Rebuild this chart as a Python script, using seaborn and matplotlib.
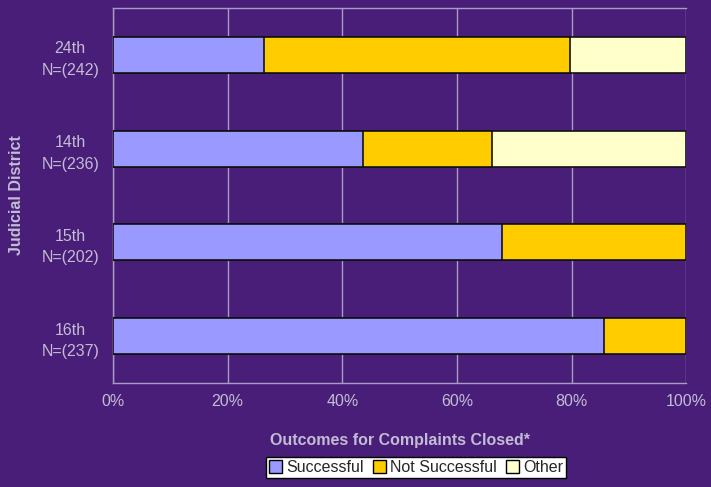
import matplotlib
matplotlib.use("Agg")
import matplotlib.pyplot as plt
import seaborn as sns
import pandas as pd
from matplotlib.patches import Patch

districts = ["24th\nN=(242)", "14th\nN=(236)", "15th\nN=(202)", "16th\nN=(237)"]
successful = [26.4, 43.6, 67.9, 85.7]
not_successful = [53.4, 22.5, 32.1, 14.3]
other = [20.2, 33.9, 0.0, 0.0]

series_names = ["Successful", "Not Successful", "Other"]
series_colors = ["#9999FF", "#FFCC00", "#FFFFCC"]

bg = "#481E78"
text_col = "#C4BCD4"
grid_col = "#A99BC6"

df = pd.DataFrame({
    "district": districts,
    "Successful": successful,
    "Not Successful": not_successful,
    "Other": other,
})
# cumulative ends for stacking (draw the longest layer first)
df["cum_succ"] = df["Successful"]
df["cum_not"] = df["cum_succ"] + df["Not Successful"]
df["cum_other"] = df["cum_not"] + df["Other"]

sns.set_theme(style="white")
plt.rcParams["font.family"] = ["Liberation Sans", "DejaVu Sans"]

fig = plt.figure(figsize=(7.11, 4.87), dpi=100, facecolor=bg)
ax = fig.add_axes([0.159, 0.2136, 0.806, 0.770])
ax.set_facecolor(bg)

layers = [("cum_other", series_colors[2]), ("cum_not", series_colors[1]), ("cum_succ", series_colors[0])]
for col, color in layers:
    sns.barplot(data=df, x=col, y="district", order=districts, orient="h",
                color=color, width=0.385, edgecolor="#111111", linewidth=1.2,
                saturation=1, ax=ax, zorder=3)

ax.set_xlim(0, 100)
ax.set_ylim(3.5, -0.5)
ax.set_xticks([0, 20, 40, 60, 80, 100])
ax.set_xticklabels(["0%", "20%", "40%", "60%", "80%", "100%"])
ax.xaxis.grid(True, color=grid_col, linewidth=1.0, zorder=0)
ax.set_axisbelow(True)

# y ticks sit at category boundaries, labels centred on bars
ax.set_yticks([0, 1, 2, 3])
ax.set_yticklabels(districts, multialignment="center", linespacing=1.55)
ax.set_yticks([-0.5, 0.5, 1.5, 2.5, 3.5], minor=True)
ax.tick_params(axis="y", which="major", length=0, pad=10, labelcolor=text_col, labelsize=11.5)
ax.tick_params(axis="y", which="minor", length=6, color=grid_col, width=1, direction="out")
ax.tick_params(axis="x", which="major", length=6, color=grid_col, width=1, direction="out",
               labelcolor=text_col, labelsize=11.5, pad=2)

ax.spines["right"].set_visible(False)
for s in ["left", "bottom", "top"]:
    ax.spines[s].set_color(grid_col)
    ax.spines[s].set_linewidth(1.0)

ax.set_xlabel("Outcomes for Complaints Closed*", color=text_col, fontsize=11.5,
              fontweight="bold", labelpad=17)
ax.set_ylabel("Judicial District", color=text_col, fontsize=11.5, fontweight="bold")
ax.yaxis.set_label_coords(-0.155, 0.5)

handles = [Patch(facecolor=c, edgecolor="black", linewidth=1) for c in series_colors]
leg = fig.legend(handles, series_names, loc="center", bbox_to_anchor=(0.585, 0.040), ncol=3,
                 frameon=True, fancybox=False, edgecolor="black", fontsize=11.5,
                 handlelength=0.8, handleheight=0.8, handletextpad=0.25, columnspacing=0.6,
                 borderpad=0.2, borderaxespad=0, framealpha=1)
leg.get_frame().set_facecolor("white")
leg.get_frame().set_linewidth(1.0)

fig.savefig("out.png", dpi=100, facecolor=bg)
